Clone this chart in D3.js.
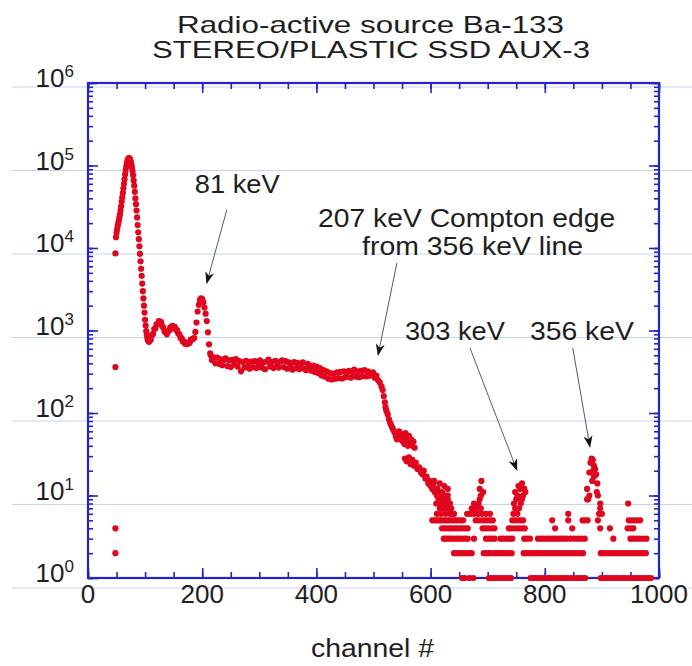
<!DOCTYPE html>
<html>
<head>
<meta charset="utf-8">
<script src="https://cdn.jsdelivr.net/npm/d3@7"></script>
<style>
  body { margin: 0; background: #fff; }
  text { font-family: "Liberation Sans", Arial, Helvetica, sans-serif; fill: #1e1e1e; }
</style>
</head>
<body>
<script>
'use strict';

// ---- data (channel, counts) ----
var strayPoints = [[48, 8600], [48, 360], [48, 4], [48, 2]];

var mainPeak = [
  [49, 13500], [50, 15200], [51, 16800], [52, 18500], [53, 20000], [54, 21500], [55, 23500], [56, 25500],
  [57, 28500], [58, 32000], [59, 36500], [60, 41000], [61, 46500], [62, 53000], [63, 60000], [64, 68000],
  [65, 78000], [66, 88000], [67, 97000], [68, 106000], [69, 113000], [70, 119000], [71, 122000], [72, 123000],
  [73, 121000], [74, 117000], [75, 111000], [76, 103000], [77, 94000], [78, 85000], [79, 76000], [80, 66000],
  [81, 57000], [82, 48000], [83, 40000], [84, 34000], [85, 28500], [86, 23500], [87, 19000], [88, 15500],
  [89, 12800], [90, 10500], [91, 8500], [92, 6900], [93, 5600], [94, 4600], [95, 3700], [96, 3000],
  [97, 2450], [98, 2000], [99, 1650], [100, 1350], [101, 1150], [102, 980], [103, 880], [104, 800],
  [105, 760], [106, 740], [107, 730]
];

var lowBumps = [
  [108, 760], [110, 770], [112, 880], [114, 910], [116, 1040], [118, 1060], [120, 1190], [122, 1200],
  [124, 1300], [126, 1280], [128, 1260], [130, 1130], [132, 1080], [134, 970], [136, 970], [138, 900],
  [140, 980], [142, 990], [144, 1090], [146, 1060], [148, 1140], [150, 1080], [152, 1110], [154, 1020],
  [156, 1010], [158, 920], [160, 900], [162, 810], [164, 810], [166, 735], [168, 740], [170, 690],
  [172, 705], [174, 685], [176, 710], [178, 705], [180, 775], [182, 770], [184, 800], [186, 810],
  [188, 960], [190, 1250], [192, 1700], [194, 2050], [196, 2350], [198, 2450], [200, 2400], [202, 2200],
  [204, 1900], [206, 1600], [208, 1300], [210, 950], [212, 680], [214, 530]
];

var plateau = [
  [215, 500], [217, 440], [220, 470], [223, 400], [226, 470], [229, 395], [232, 450], [235, 380],
  [238, 440], [241, 460], [244, 370], [247, 435], [250, 360], [253, 440], [256, 385], [259, 450],
  [262, 365], [265, 425], [268, 320], [271, 415], [274, 355], [277, 430], [280, 370], [283, 345],
  [286, 420], [289, 360], [292, 425], [295, 350], [298, 405], [301, 435], [304, 355], [307, 410],
  [310, 340], [313, 420], [316, 445], [319, 365], [322, 415], [325, 350], [328, 430], [331, 370],
  [334, 355], [337, 420], [340, 435], [343, 360], [346, 425], [349, 345], [352, 410], [355, 365],
  [358, 335], [361, 415], [364, 350], [367, 405], [370, 340], [373, 395], [376, 410], [379, 345],
  [382, 330], [385, 395], [388, 345], [391, 325], [394, 375], [397, 315], [400, 365], [403, 305],
  [406, 350], [409, 285], [412, 330], [415, 275], [418, 320], [421, 260], [424, 305], [427, 255],
  [430, 300], [433, 260], [436, 310], [439, 265], [442, 315], [445, 262], [448, 320], [451, 272],
  [454, 310], [457, 325], [460, 268], [463, 315], [466, 335], [469, 275], [472, 320], [475, 272],
  [478, 325], [481, 280], [484, 330], [487, 278], [490, 320], [493, 282], [496, 300], [499, 312],
  [502, 268], [505, 285], [508, 250], [511, 235], [514, 210], [516, 190], [518, 160]
];

var comptonEdge = [
  [520, 135], [521, 118], [522, 110], [523, 104], [525, 96], [527, 84], [529, 76], [531, 71],
  [533, 66], [535, 62], [537, 58], [539, 52], [541, 48], [543, 55], [545, 60], [546, 50],
  [548, 56], [550, 46], [552, 52], [554, 42], [556, 57], [558, 47], [560, 40], [562, 53],
  [564, 44], [566, 48], [568, 40], [570, 45], [572, 38], [555, 28], [558, 26], [562, 29],
  [565, 24], [568, 27], [571, 23], [574, 25], [577, 21], [580, 22], [583, 19], [586, 18],
  [588, 20], [591, 16], [593, 17], [596, 14], [598, 15], [600, 13], [603, 12], [605, 14],
  [607, 11], [609, 12], [611, 10], [613, 11], [615, 9], [617, 10], [619, 8], [621, 9],
  [623, 7], [625, 8], [628, 7], [630, 10], [633, 8], [636, 7], [638, 6], [641, 6]
];

// channels of the tail that hold exactly 1, 2, 3, 4, 5 counts
var row1 = [655, 660, 668, 675, 702, 706, 711, 716, 722, 727, 731, 737, 741, 775, 779, 783, 787, 792, 797, 801,
  806, 810, 815, 820, 826, 831, 836, 840, 845, 850, 856, 861, 866, 871, 898, 902, 907, 911, 916, 920,
  925, 930, 936, 941, 947, 952, 957, 962, 966, 971, 976, 981, 986];
var row2 = [641, 645, 650, 654, 659, 663, 668, 672, 693, 697, 702, 706, 713, 718, 723, 727, 732, 737, 742,
  763, 767, 772, 776, 781, 786, 790, 795, 800, 804, 809, 814, 818, 823, 828, 833, 838, 843, 848, 852,
  857, 862, 867, 898, 902, 907, 912, 917, 922, 927, 932, 937, 942, 947, 952, 957, 962, 967, 972, 977];
var row3 = [623, 627, 632, 636, 641, 646, 650, 655, 660, 665, 676, 697, 702, 707, 712, 722, 727, 733, 738,
  743, 764, 769, 774, 788, 793, 798, 803, 808, 813, 818, 823, 828, 833, 838, 845, 852, 858, 864, 870,
  920, 950, 955, 961, 966, 972, 978];
var row4 = [620, 624, 628, 633, 637, 642, 646, 651, 656, 661, 665, 691, 696, 701, 707, 712, 737, 742, 748,
  754, 760, 765, 818, 848, 897, 914, 945, 950, 955];
var row5 = [603, 607, 611, 615, 619, 623, 627, 631, 635, 640, 644, 648, 653, 657, 679, 684, 690, 695, 700,
  705, 709, 743, 748, 753, 758, 762, 813, 841, 866, 870, 875, 893, 947, 952, 957, 962, 967];

var tailScatter = [
  [606, 15], [610, 8], [611, 6], [612, 12], [612, 10], [614, 9], [616, 14], [616, 7], [618, 10], [618, 6],
  [620, 11], [620, 8], [622, 9], [624, 13], [624, 7], [626, 10], [626, 6], [628, 8], [630, 12], [630, 9],
  [632, 7], [634, 8], [634, 6], [640, 6], [664, 6], [670, 6], [672, 7], [676, 8], [676, 6], [680, 7],
  [683, 6], [684, 8], [686, 12], [686, 9], [688, 10], [688, 7], [689, 15], [690, 6], [692, 11], [697, 6],
  [704, 6], [745, 6], [746, 8], [748, 11], [748, 7], [750, 9], [752, 10], [752, 6], [754, 13], [755, 7],
  [757, 12], [758, 8], [760, 14], [760, 9], [762, 10], [764, 12], [766, 11], [841, 6], [874, 12], [874, 9],
  [876, 9], [878, 19], [878, 10], [880, 25], [882, 28], [883, 15], [884, 27], [885, 20], [886, 23], [886, 17],
  [888, 21], [890, 18], [891, 11], [892, 14], [893, 10], [895, 6], [897, 8], [897, 7], [900, 6], [946, 8]
];

var xTickLabels = [0, 200, 400, 600, 800, 1000];
var yTickExponents = [0, 1, 2, 3, 4, 5, 6];

// annotation anchors in data units: text baseline start, arrow tail, arrow tip
var notes = [
  { lines: [['81 keV', 187, 46800, 85]], from: [243, 28900], to: [208, 3770] },
  { lines: [['207 keV Compton edge', 403, 18100, 297], ['from 356 keV line', 480, 8230, 221]], from: [541, 6600], to: [508, 505] },
  { lines: [['303 keV', 555, 767, 100]], from: [669, 614], to: [751, 20.4] },
  { lines: [['356 keV', 774, 767, 104]], from: [849, 614], to: [879, 39] }
];

// ---- drawing ----
var blue = '#2424c6';
var red = '#e0061e';

var svg = d3.select('body').append('svg').attr('width', 692).attr('height', 666);

var x = d3.scaleLinear().domain([0, 1000]).range([88, 659]);
var y = d3.scaleLog().domain([1, 1e6]).range([578, 83]);
// the pale grid of the original sits a few pixels below the axis decades
var yGrid = d3.scaleLog().domain([1, 1e6]).range([588, 87]);

var decades = yTickExponents.map(function (e) { return Math.pow(10, e); });

svg.append('g').selectAll('line').data(decades).enter().append('line')
  .attr('x1', 12).attr('x2', 692)
  .attr('y1', function (d) { return yGrid(d); })
  .attr('y2', function (d) { return yGrid(d); })
  .attr('stroke', '#c6d3ef').attr('stroke-width', 1);

var styleAxis = function (g) {
  g.select('.domain').remove();
  g.selectAll('text').remove();
  g.selectAll('line').attr('stroke', blue).attr('stroke-width', 1.6);
};

var minorX = d3.range(0, 1001, 50);
var minorY = y.ticks();

svg.append('g').attr('transform', 'translate(0,578)')
  .call(d3.axisBottom(x).tickValues(minorX).tickSize(-6).tickFormat('')).call(styleAxis);
svg.append('g').attr('transform', 'translate(0,578)')
  .call(d3.axisBottom(x).tickValues(xTickLabels).tickSize(-10).tickFormat('')).call(styleAxis);
svg.append('g').attr('transform', 'translate(0,83)')
  .call(d3.axisTop(x).tickValues(minorX).tickSize(-6).tickFormat('')).call(styleAxis);
svg.append('g').attr('transform', 'translate(0,83)')
  .call(d3.axisTop(x).tickValues(xTickLabels).tickSize(-10).tickFormat('')).call(styleAxis);
svg.append('g').attr('transform', 'translate(88,0)')
  .call(d3.axisLeft(y).tickValues(minorY).tickSize(-5).tickFormat('')).call(styleAxis);
svg.append('g').attr('transform', 'translate(88,0)')
  .call(d3.axisLeft(y).tickValues(decades).tickSize(-10).tickFormat('')).call(styleAxis);
svg.append('g').attr('transform', 'translate(659,0)')
  .call(d3.axisRight(y).tickValues(minorY).tickSize(-5).tickFormat('')).call(styleAxis);
svg.append('g').attr('transform', 'translate(659,0)')
  .call(d3.axisRight(y).tickValues(decades).tickSize(-10).tickFormat('')).call(styleAxis);

svg.append('rect')
  .attr('x', x(0)).attr('y', y(1e6))
  .attr('width', x(1000) - x(0)).attr('height', y(1) - y(1e6))
  .attr('fill', 'none').attr('stroke', blue).attr('stroke-width', 2.2);

// collect all points
var points = [].concat(strayPoints, mainPeak, lowBumps, plateau, comptonEdge, tailScatter);
[row1, row2, row3, row4, row5].forEach(function (row, i) {
  row.forEach(function (c) { points.push([c, i + 1]); });
});

svg.append('g').selectAll('circle').data(points).enter().append('circle')
  .attr('cx', function (d) { return x(d[0]); })
  .attr('cy', function (d) { return y(d[1]); })
  .attr('r', 3.1)
  .attr('fill', red);

// tick labels
svg.append('g').selectAll('text').data(xTickLabels).enter().append('text')
  .attr('x', function (d) { return x(d); })
  .attr('y', 603)
  .attr('text-anchor', 'middle')
  .style('font-size', '26px')
  .text(function (d) { return d; });

var yl = svg.append('g').selectAll('text').data(yTickExponents).enter().append('text')
  .attr('x', 74)
  .attr('y', function (d) { return y(Math.pow(10, d)) + 4; })
  .attr('text-anchor', 'end')
  .style('font-size', '26px');
yl.append('tspan').text('10');
yl.append('tspan').attr('dy', -10).style('font-size', '17px').text(function (d) { return d; });

// titles
svg.append('text').attr('x', 177).attr('y', 33).attr('textLength', 387).attr('lengthAdjust', 'spacingAndGlyphs')
  .style('font-size', '24px').text('Radio-active source Ba-133');
svg.append('text').attr('x', 152).attr('y', 58).attr('textLength', 438).attr('lengthAdjust', 'spacingAndGlyphs')
  .style('font-size', '24px').text('STEREO/PLASTIC SSD AUX-3');
svg.append('text').attr('x', 311).attr('y', 657).attr('textLength', 123).attr('lengthAdjust', 'spacingAndGlyphs')
  .style('font-size', '25px').text('channel #');

// annotations
svg.append('defs').append('marker')
  .attr('id', 'head').attr('viewBox', '0 -5 12 10')
  .attr('refX', 11).attr('refY', 0)
  .attr('markerWidth', 12).attr('markerHeight', 10)
  .attr('markerUnits', 'userSpaceOnUse')
  .attr('orient', 'auto')
  .append('path').attr('d', 'M0,-4.5L12,0L0,4.5L3.5,0Z').attr('fill', '#111');

notes.forEach(function (n) {
  n.lines.forEach(function (l) {
    svg.append('text')
      .attr('x', x(l[1])).attr('y', y(l[2]))
      .attr('textLength', l[3]).attr('lengthAdjust', 'spacingAndGlyphs')
      .style('font-size', '25px')
      .text(l[0]);
  });
  svg.append('line')
    .attr('x1', x(n.from[0])).attr('y1', y(n.from[1]))
    .attr('x2', x(n.to[0])).attr('y2', y(n.to[1]))
    .attr('stroke', '#5a5a5a').attr('stroke-width', 1)
    .attr('marker-end', 'url(#head)');
});
</script>
</body>
</html>
